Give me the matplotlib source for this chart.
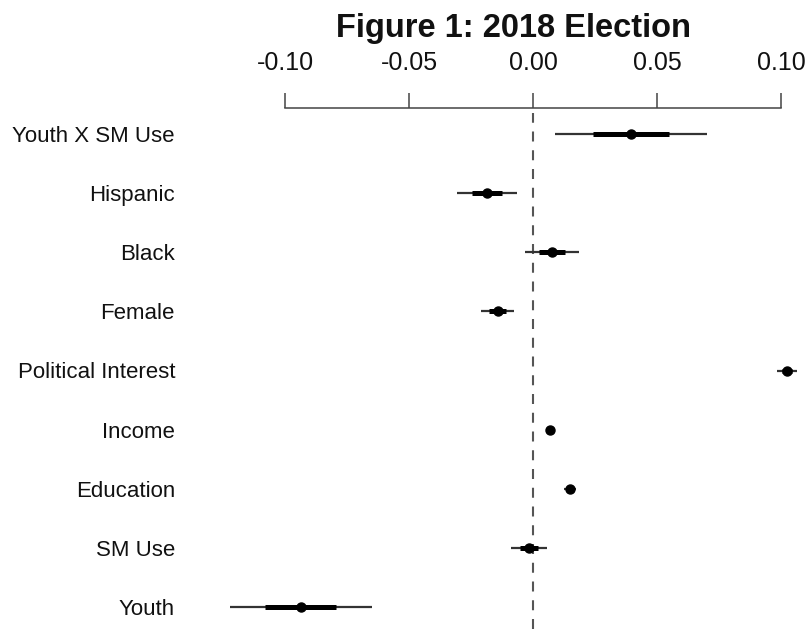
import numpy as np
import matplotlib
matplotlib.use('Agg')
import matplotlib.pyplot as plt

plt.rcParams['font.family'] = ['Liberation Sans', 'DejaVu Sans']
plt.rcParams['axes.unicode_minus'] = False

# coefficients, top row first
variables = ['Youth X SM Use', 'Hispanic', 'Black', 'Female', 'Political Interest',
             'Income', 'Education', 'SM Use', 'Youth']
estimates = [0.0395, -0.0185, 0.0077, -0.0143, 0.1025, 0.0067, 0.0149, -0.0016, -0.0937]
std_errors = [0.0153, 0.0060, 0.0054, 0.0033, 0.0020, 0.0007, 0.0013, 0.0037, 0.0143]
x_ticks = [-0.10, -0.05, 0.00, 0.05, 0.10]

W, H = 809, 629
fig = plt.figure(figsize=(W / 100, H / 100), dpi=100)

# plot region in pixels
left_px, right_px, top_px = 200, 809, 108
ax = fig.add_axes([left_px / W, 0, (right_px - left_px) / W, 1 - top_px / H])

px_per_unit = (781 - 285) / 0.20
ax.set_xlim(-0.10 - (285 - left_px) / px_per_unit, 0.10 + (right_px - 781) / px_per_unit)

n = len(variables)
ypos = np.arange(n, 0, -1)
row_px = (607 - 134) / (n - 1)
ax.set_ylim(1 - (H - 607) / row_px, n + (134 - top_px) / row_px)

est = np.array(estimates)
se = np.array(std_errors)

# zero reference line
ax.axvline(0, ymax=1 - 5 / (H - top_px), color='#555555', lw=1.5,
           linestyle=(0, (4.8, 4.2)), zorder=1)

# +-2 se (thin) and +-1 se (thick) intervals
ax.hlines(ypos, est - 2 * se, est + 2 * se, color='#333333', lw=1.6, zorder=2)
ax.hlines(ypos, est - se, est + se, color='black', lw=3.6, zorder=3)
ax.plot(est, ypos, 'o', color='black', ms=6.5, zorder=4)

for side in ['left', 'right', 'bottom']:
    ax.spines[side].set_visible(False)
ax.spines['top'].set_bounds(-0.10, 0.10)
ax.spines['top'].set_color('#444444')
ax.spines['top'].set_linewidth(1.1)

ax.xaxis.tick_top()
ax.set_xticks(x_ticks)
ax.set_xticklabels([f'{t:.2f}' for t in x_ticks])
ax.tick_params(axis='x', direction='out', length=10.8, width=1.1, color='#444444',
               labelsize=18, pad=13, labelcolor='#111111')

ax.set_yticks(ypos)
ax.set_yticklabels(variables)
ax.tick_params(axis='y', length=0, labelsize=16, pad=18, labelcolor='#111111')

fig.text(513 / W, 1 - 37 / H, 'Figure 1: 2018 Election', ha='center', va='baseline',
         fontsize=23.5, fontweight='bold', color='#111111')

fig.savefig('out.png', dpi=100)
